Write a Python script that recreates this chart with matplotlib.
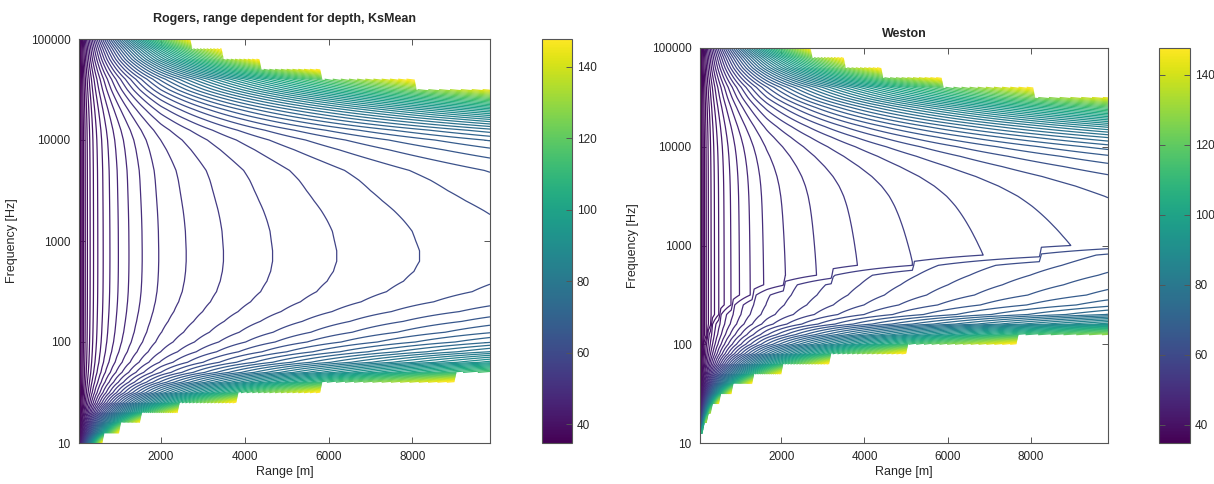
import numpy as np
import matplotlib
matplotlib.use('Agg')
import matplotlib.pyplot as plt
from matplotlib import cm, colors
from matplotlib.ticker import NullLocator

# 1/3-octave band centres [Hz]
freq = [10, 12.5, 16, 20, 25, 31.5, 40, 50, 63, 80, 100, 125, 160, 200, 250,
        315, 400, 500, 630, 800, 1000, 1250, 1600, 2000, 2500, 3150, 4000,
        5000, 6300, 8000, 10000, 12500, 16000, 20000, 25000, 31500, 40000,
        50000, 63000, 80000, 100000]

# Rogers: total attenuation per band [dB/km]
rogers_att = [154, 88, 56, 34, 21, 13.2, 8.2, 5.0, 3.1, 2.0, 1.35, 0.95, 0.66,
              0.45, 0.30, 0.20, 0.145, 0.115, 0.10, 0.10, 0.11, 0.12, 0.145,
              0.175, 0.215, 0.26, 0.31, 0.38, 0.53, 0.73, 1.0, 1.5, 2.4,
              3.5, 5.0, 7.0, 9.3, 13.2, 18, 23, 30]

# sea water absorption per band [dB/km]
sea_att = [0.003, 0.003, 0.003, 0.003, 0.003, 0.003, 0.003, 0.003, 0.003,
           0.003, 0.003, 0.004, 0.005, 0.007, 0.009, 0.014, 0.02, 0.028,
           0.039, 0.053, 0.069, 0.087, 0.11, 0.135, 0.166, 0.21, 0.28, 0.38,
           0.54, 0.78, 1.12, 1.65, 2.5, 3.6, 5.0, 7.0, 9.3, 13.2, 18, 23, 30]

# Weston: single mode transition range [m] and mode loss [dB/km] per band
weston_r3 = [1, 2, 3, 5, 8, 13, 21, 33, 52, 82, 130, 210, 330, 520, 820,
             1300, 2050, 3200, 5150, 8200, 13000, 20000] + [1e6] * 19
weston_att = [5000, 800, 452, 291, 185, 111, 65.5, 40.7, 25.2, 15.3, 9.6, 5.8,
              2.74, 1.4, 0.9, 0.65, 0.53, 0.45, 0.4, 0.5, 0.5, 0.5] + [0] * 19
weston_jump = 3.0

rng = np.arange(50, 9851, 50)
R, F = np.meshgrid(rng, np.array(freq, dtype=float))
rkm = R / 1000.0

# Rogers: spherical then 15 log r
s_rog = np.where(R < 1995, 20 * np.log10(R), 16.5 + 15 * np.log10(R))
tl_rog = s_rog + np.array(rogers_att)[:, None] * rkm

# Weston: spherical, mode stripping, single mode
s_wes = np.where(R < 1660, 20 * np.log10(R), 16.1 + 15 * np.log10(R))
r3 = np.array(weston_r3, dtype=float)[:, None]
b = np.array(weston_att)[:, None]
tl_wes = s_wes + np.array(sea_att)[:, None] * rkm
tl_wes = tl_wes + np.where(R > r3, weston_jump + b * (R - r3) / 1000.0, 0.0)

tl_rog = np.ma.masked_where(tl_rog > 150, tl_rog)
tl_wes = np.ma.masked_where(tl_wes > 150, tl_wes)

levels = np.arange(36, 149, 2)
norm = colors.Normalize(vmin=34.8, vmax=147.7)
# thin contour lines render darker in the original, so skew the line colours
line_cmap = colors.ListedColormap(
    plt.get_cmap('viridis')(np.linspace(0, 1, 256) ** 1.5))

plt.rcParams['font.family'] = ['Liberation Sans', 'DejaVu Sans']
txt = '#262626'
edge = '#555555'

fig = plt.figure(figsize=(12.14, 4.84), dpi=100)
W, H = 1214.0, 484.0


def box(x0, y0, x1, y1):
    return [x0 / W, 1 - y1 / H, (x1 - x0) / W, (y1 - y0) / H]


panels = [
    (tl_rog, 'Rogers, range dependent for depth, KsMean', 12,
     box(79, 39, 490, 443), box(542, 39, 572, 443)),
    (tl_wes, 'Weston', 8,
     box(700, 48, 1108, 443), box(1159, 48, 1190, 443)),
]

for tl, title, tpad, apos, cpos in panels:
    ax = fig.add_axes(apos)
    ax.contour(rng, freq, tl, levels=levels, cmap=line_cmap, norm=norm,
               linewidths=0.9)
    ax.set_yscale('log')
    ax.set_xlim(rng[0], rng[-1])
    ax.set_ylim(10, 100000)
    ax.set_xticks([2000, 4000, 6000, 8000])
    ax.set_yticks([10, 100, 1000, 10000, 100000])
    ax.set_yticklabels(['10', '100', '1000', '10000', '100000'])
    ax.yaxis.set_minor_locator(NullLocator())
    ax.tick_params(direction='in', top=True, right=True, length=4,
                   width=0.7, labelsize=8.5, colors=edge, labelcolor=txt)
    ax.tick_params(axis='x', pad=6)
    ax.tick_params(axis='y', pad=6)
    for sp in ax.spines.values():
        sp.set_color(edge)
        sp.set_linewidth(0.8)
    ax.set_xlabel('Range [m]', fontsize=9, color=txt, labelpad=2)
    ax.set_ylabel('Frequency [Hz]', fontsize=9, color=txt, labelpad=9)
    ax.set_title(title, fontsize=9, fontweight='bold', color=txt, pad=tpad)

    cax = fig.add_axes(cpos)
    sm = cm.ScalarMappable(norm=norm, cmap='viridis')
    cb = fig.colorbar(sm, cax=cax, ticks=[40, 60, 80, 100, 120, 140])
    cb.outline.set_edgecolor(edge)
    cb.outline.set_linewidth(0.8)
    cax.tick_params(direction='in', left=True, right=True, length=4,
                    width=0.7, labelsize=8.5, colors=edge, labelcolor=txt)
    cax.yaxis.set_minor_locator(NullLocator())

fig.savefig('out.png', dpi=100)
